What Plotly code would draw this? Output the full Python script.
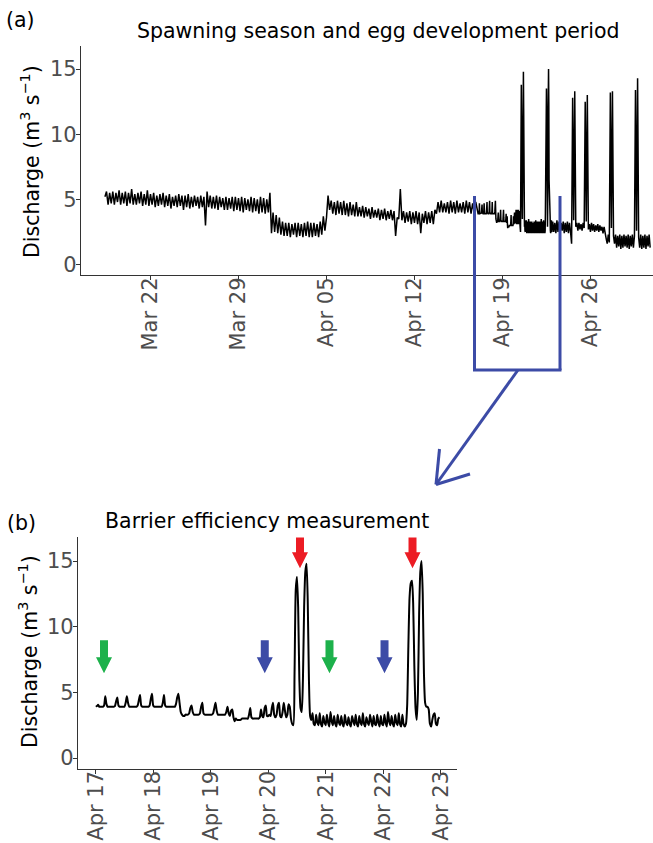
import pandas as pd
import plotly.graph_objects as go

# ---------------- data ----------------
# Section A: 3-hourly discharge (m3/s), 2019-03-18 09:00 .. 2019-04-16 21:00
q_a_start = "2019-03-18 09:00"
q_a = [
    5.2, 5.6, 4.6, 5.5, 4.7,                      # Mar 18 (from 09h)
    5.6, 4.6, 5.5, 4.8, 5.7, 4.6, 5.5, 4.7,       # Mar 19
    5.6, 4.5, 5.5, 4.7, 5.8, 4.6, 5.4, 4.6,       # Mar 20
    5.5, 4.7, 5.6, 4.5, 5.4, 4.6, 5.7, 4.5,       # Mar 21
    5.4, 4.6, 5.5, 4.4, 5.3, 4.5, 5.4, 4.6,       # Mar 22
    5.5, 4.4, 5.3, 4.5, 5.4, 4.3, 5.2, 4.5,       # Mar 23
    5.3, 4.4, 5.4, 4.5, 5.3, 4.2, 5.3, 4.4,       # Mar 24
    5.4, 4.3, 5.2, 4.4, 5.3, 4.5, 5.2, 4.3,       # Mar 25
    5.3, 4.4, 5.2, 3.0, 5.6, 4.4, 5.3, 4.3,       # Mar 26
    5.2, 4.3, 5.3, 4.2, 5.2, 4.4, 5.1, 4.2,       # Mar 27
    5.2, 4.2, 5.1, 4.3, 5.2, 4.1, 5.2, 4.2,       # Mar 28
    5.1, 4.1, 5.2, 4.0, 5.1, 4.2, 5.0, 4.1,       # Mar 29
    5.2, 4.0, 5.1, 4.1, 5.0, 3.9, 5.2, 4.0,       # Mar 30
    5.1, 3.9, 5.0, 4.0, 5.5, 2.4, 4.0, 2.5,       # Mar 31
    3.8, 2.4, 3.6, 2.3, 3.3, 2.2, 3.2, 2.2,       # Apr 1
    3.2, 2.1, 3.1, 2.3, 3.2, 2.1, 3.2, 2.2,       # Apr 2
    3.1, 2.1, 3.2, 2.2, 3.3, 2.1, 3.2, 2.1,       # Apr 3
    3.2, 2.2, 3.1, 2.1, 3.3, 2.3, 3.7, 2.6,       # Apr 4
    3.6, 5.3, 4.2, 4.9, 3.9, 4.8, 3.8, 4.9,       # Apr 5
    3.9, 4.8, 3.8, 4.9, 3.8, 4.7, 3.7, 4.8,       # Apr 6
    3.8, 4.6, 3.7, 4.8, 3.7, 4.4, 3.7, 4.5,       # Apr 7
    3.6, 4.4, 3.7, 4.3, 3.5, 4.4, 3.6, 4.2,       # Apr 8
    3.6, 4.3, 3.4, 4.2, 3.5, 4.3, 3.4, 4.1,       # Apr 9
    3.5, 4.2, 3.4, 4.1, 2.2, 3.6, 3.5, 5.8,       # Apr 10
    3.4, 4.1, 3.2, 4.0, 3.3, 4.1, 3.1, 4.0,       # Apr 11
    3.2, 4.1, 3.1, 4.0, 2.4, 3.9, 3.2, 4.1,       # Apr 12
    3.1, 4.0, 3.2, 4.1, 3.1, 4.2, 3.9, 4.8,       # Apr 13
    4.0, 4.9, 4.0, 4.7, 4.0, 4.8, 3.9, 4.9,       # Apr 14
    4.0, 4.8, 3.9, 4.9, 4.0, 4.7, 4.0, 4.8,       # Apr 15
    3.9, 4.9, 4.0, 4.8, 3.9, 4.7, 4.0, 4.8,       # Apr 16
]

# Section B: 30-min discharge, 2019-04-17 00:00 .. 2019-04-22 23:30 (panel b)
q_b_start = "2019-04-17 00:00"
q_b = [
    # Apr 17
    3.95, 3.95, 4.05, 3.9, 3.9, 3.9, 3.9, 4.0, 4.7, 4.1, 3.9, 3.9,
    3.9, 3.9, 3.9, 3.9, 3.95, 4.3, 4.6, 4.0, 3.9, 3.9, 3.9, 3.9,
    3.9, 4.2, 4.7, 4.2, 3.9, 3.9, 3.9, 3.9, 3.9, 3.9, 3.9, 4.0,
    4.4, 4.8, 4.0, 3.9, 3.9, 3.9, 3.9, 3.9, 3.9, 4.0, 4.5, 4.9,
    # Apr 18
    4.0, 3.9, 3.9, 3.9, 3.9, 3.9, 3.9, 3.9, 4.2, 4.8, 4.0, 3.9,
    3.9, 3.9, 3.9, 3.9, 3.9, 3.9, 3.9, 4.1, 4.6, 4.9, 4.2, 3.5,
    3.3, 3.2, 3.2, 3.3, 3.3, 3.3, 3.4, 3.8, 4.0, 3.5, 3.3, 3.3,
    3.3, 3.3, 3.3, 3.4, 3.9, 4.2, 3.4, 3.3, 3.3, 3.3, 3.3, 3.3,
    # Apr 19
    3.3, 3.3, 3.4, 3.8, 4.2, 3.6, 3.3, 3.3, 3.3, 3.3, 3.3, 3.3,
    3.3, 3.5, 3.9, 3.4, 3.2, 3.6, 3.7, 3.1, 2.8, 3.0, 2.9, 2.9,
    2.9, 2.9, 3.0, 3.0, 3.0, 3.0, 3.0, 3.0, 3.3, 3.8, 3.1, 3.0,
    3.0, 3.0, 3.0, 3.0, 3.0, 3.1, 3.7, 3.2, 3.1, 3.8, 4.0, 3.2,
    # Apr 20
    3.2, 3.3, 3.2, 3.8, 4.2, 3.3, 3.1, 3.3, 4.0, 4.2, 3.2, 3.1,
    3.5, 4.2, 3.6, 3.1, 3.3, 4.1, 3.9, 3.0, 2.6, 2.5, 6.5, 12.8,
    13.8, 11.5, 6.0, 3.8, 3.5, 6.0, 11.5, 14.2, 14.8, 12.0, 6.0, 3.2,
    2.9, 3.4, 2.6, 2.5, 3.3, 2.7, 2.5, 3.4, 2.6, 2.4, 3.2, 2.7,
    # Apr 21
    2.5, 3.3, 2.7, 2.4, 3.5, 2.8, 2.5, 3.2, 2.6, 2.4, 3.3, 2.7,
    2.5, 3.2, 2.6, 2.4, 3.3, 2.7, 2.5, 3.1, 2.6, 2.4, 3.2, 2.8,
    2.5, 3.3, 2.6, 2.4, 3.2, 2.7, 2.5, 3.4, 2.6, 2.4, 3.1, 2.7,
    2.5, 3.3, 2.8, 2.4, 3.2, 2.6, 2.5, 3.3, 2.7, 2.4, 3.2, 2.6,
    # Apr 22
    2.5, 3.3, 2.7, 2.4, 3.5, 2.8, 2.5, 3.2, 2.6, 2.4, 3.3, 2.7,
    2.5, 3.4, 2.6, 2.4, 3.3, 2.6, 2.4, 2.6, 4.0, 8.5, 12.2, 13.3,
    13.5, 11.8, 7.0, 3.8, 2.9, 5.0, 11.0, 14.2, 15.0, 12.5, 6.5, 4.2,
    3.9, 3.9, 3.7, 2.6, 2.4, 2.9, 3.3, 3.4, 2.6, 2.5, 3.0, 3.1,
]

# Section C: 2-hourly discharge, 2019-04-23 00:00 .. 2019-04-30 18:00
q_c_start = "2019-04-23 00:00"
q_c = [
    3.3, 2.5, 3.2, 2.4, 3.4, 2.5, 3.3, 2.4, 3.2, 2.6, 3.3, 2.4,     # Apr 23
    3.2, 2.5, 3.3, 2.4, 3.2, 2.5, 1.6, 12.8, 3.4, 13.3, 2.9, 3.2,   # Apr 24
    2.6, 3.2, 2.7, 3.1, 2.6, 3.2, 2.8, 12.5, 3.3, 13.0, 2.7, 3.1,   # Apr 25
    2.5, 3.2, 2.6, 3.1, 2.5, 3.0, 2.6, 3.1, 2.5, 3.0, 2.6, 2.9,     # Apr 26
    2.4, 2.9, 2.3, 2.0, 1.6, 2.3, 1.7, 13.2, 2.8, 13.3, 2.2, 1.6,   # Apr 27
    2.3, 1.3, 2.2, 1.4, 2.3, 1.2, 2.2, 1.3, 2.3, 1.4, 2.2, 1.3,     # Apr 28
    2.3, 1.2, 2.2, 1.4, 2.3, 1.3, 2.2, 13.4, 2.6, 14.3, 2.1, 1.3,   # Apr 29
    2.3, 1.2, 2.2, 1.3, 2.3, 1.2, 2.2, 1.4, 2.3, 1.3,               # Apr 30
]

top_ticks = ["2019-03-22", "2019-03-29", "2019-04-05", "2019-04-12", "2019-04-19", "2019-04-26"]
bottom_ticks = ["2019-04-17", "2019-04-18", "2019-04-19", "2019-04-20",
                "2019-04-21", "2019-04-22", "2019-04-23"]
y_ticks = [0, 5, 10, 15]

# measurement arrows (panel b): time, tip discharge, kind
arrow_times = ["2019-04-17 03:28", "2019-04-19 22:34", "2019-04-20 13:16",
               "2019-04-21 01:35", "2019-04-22 00:33", "2019-04-22 12:14"]
arrow_tips = [6.45, 6.45, 14.45, 6.45, 6.45, 14.45]
arrow_kinds = ["green", "blue", "red", "green", "blue", "red"]

# ---------------- build ----------------
t_a = pd.date_range(q_a_start, periods=len(q_a), freq="3h")
t_b = pd.date_range(q_b_start, periods=len(q_b), freq="30min")
t_c = pd.date_range(q_c_start, periods=len(q_c), freq="2h")
t_top = list(t_a) + list(t_b) + list(t_c)
q_top = q_a + q_b + q_c

W, H = 653, 843
FONT = "DejaVu Sans"
TICKCOL = "#4D4D4D"
AXCOL = "#333333"
BLUE = "#3C4BA6"
COLORS = {"green": "#1DB14B", "blue": "#3C4BA6", "red": "#EC1C24"}

def px(x):
    return x / W

def py(y):
    return 1 - y / H

fig = go.Figure()
fig.add_trace(go.Scatter(x=t_top, y=q_top, mode="lines",
                         line=dict(color="black", width=1.5), xaxis="x", yaxis="y",
                         showlegend=False, hoverinfo="skip"))
fig.add_trace(go.Scatter(x=list(t_b), y=q_b, mode="lines",
                         line=dict(color="black", width=2, shape="spline", smoothing=0.6),
                         xaxis="x2", yaxis="y2", showlegend=False, hoverinfo="skip"))

day = pd.Timedelta(days=1)
top_x0 = pd.Timestamp("2019-03-22") + (81 - 150.5) / 12.57 * day
top_x1 = pd.Timestamp("2019-03-22") + (653 - 150.5) / 12.57 * day
bot_x0 = pd.Timestamp("2019-04-17") + (78 - 95.7) / 57.5 * day
bot_x1 = pd.Timestamp("2019-04-17") + (457 - 95.7) / 57.5 * day

common_axis = dict(showline=True, linecolor=AXCOL, linewidth=1.2, ticks="outside",
                   ticklen=4, tickwidth=1.2, tickcolor=AXCOL, showgrid=False,
                   zeroline=False, automargin=False,
                   tickfont=dict(family=FONT, size=21, color=TICKCOL))

fig.update_layout(
    width=W, height=H, margin=dict(l=0, r=0, t=0, b=0),
    plot_bgcolor="white", paper_bgcolor="white",
    xaxis=dict(domain=[px(81), 1.0], range=[top_x0, top_x1], tickvals=top_ticks,
               tickformat="%b %d", tickangle=-90, anchor="y", ticklabelstandoff=-11,
               **common_axis),
    yaxis=dict(domain=[py(275), py(45.6)], range=[-0.8, 16.8], tickvals=y_ticks,
               anchor="x", ticklabelstandoff=-5, **common_axis),
    xaxis2=dict(domain=[px(78), px(457)], range=[bot_x0, bot_x1], tickvals=bottom_ticks,
                tickformat="%b %d", tickangle=-90, anchor="y2", ticklabelstandoff=-11,
                **common_axis),
    yaxis2=dict(domain=[py(768.5), py(537.4)], range=[-0.8, 16.8], tickvals=y_ticks,
                anchor="x2", ticklabelstandoff=-5, **common_axis),
)

ann = [
    dict(text="(a)", x=px(4), y=py(20), xanchor="left", yanchor="middle"),
    dict(text="Spawning season and egg development period", x=px(378), y=py(31),
         xanchor="center", yanchor="middle"),
    dict(text="(b)", x=px(5), y=py(523), xanchor="left", yanchor="middle"),
    dict(text="Barrier efficiency measurement", x=px(267), y=py(521),
         xanchor="center", yanchor="middle"),
    dict(text="Discharge (m<sup>3</sup> s<sup>−1</sup>)", x=px(30), y=py(162),
         xanchor="center", yanchor="middle", textangle=-90),
    dict(text="Discharge (m<sup>3</sup> s<sup>−1</sup>)", x=px(28), y=py(652),
         xanchor="center", yanchor="middle", textangle=-90),
]
for a in ann:
    a.update(xref="paper", yref="paper", showarrow=False,
             font=dict(family=FONT, size=20.5, color="black"))
fig.update_layout(annotations=ann)

shapes = []
# block arrows, geometry in pixels relative to the tip
arrow_path = "M -4,33 L 4,33 L 4,16 L 8,16 L 0,0 L -8,16 L -4,16 Z"
for t, q, k in zip(arrow_times, arrow_tips, arrow_kinds):
    shapes.append(dict(type="path", xref="x2", yref="y2", xsizemode="pixel",
                       ysizemode="pixel", xanchor=t, yanchor=q, path=arrow_path,
                       fillcolor=COLORS[k], line=dict(width=0), layer="above"))

# zoom box and connector (top panel -> bottom panel)
box_line = dict(color=BLUE, width=3)
shapes += [
    dict(type="line", xref="paper", yref="paper", x0=px(474.5), y0=py(196), x1=px(474.5), y1=py(370), line=box_line),
    dict(type="line", xref="paper", yref="paper", x0=px(560), y0=py(196), x1=px(560), y1=py(370), line=box_line),
    dict(type="line", xref="paper", yref="paper", x0=px(473), y0=py(370), x1=px(561.5), y1=py(370), line=box_line),
    dict(type="line", xref="paper", yref="paper", x0=px(518), y0=py(370), x1=px(436), y1=py(484.5), line=box_line),
    dict(type="line", xref="paper", yref="paper", x0=px(436), y0=py(484.5), x1=px(439.5), y1=py(449), line=box_line),
    dict(type="line", xref="paper", yref="paper", x0=px(436), y0=py(484.5), x1=px(470), y1=py(474), line=box_line),
]
fig.update_layout(shapes=shapes)

fig.write_html("out.html")
